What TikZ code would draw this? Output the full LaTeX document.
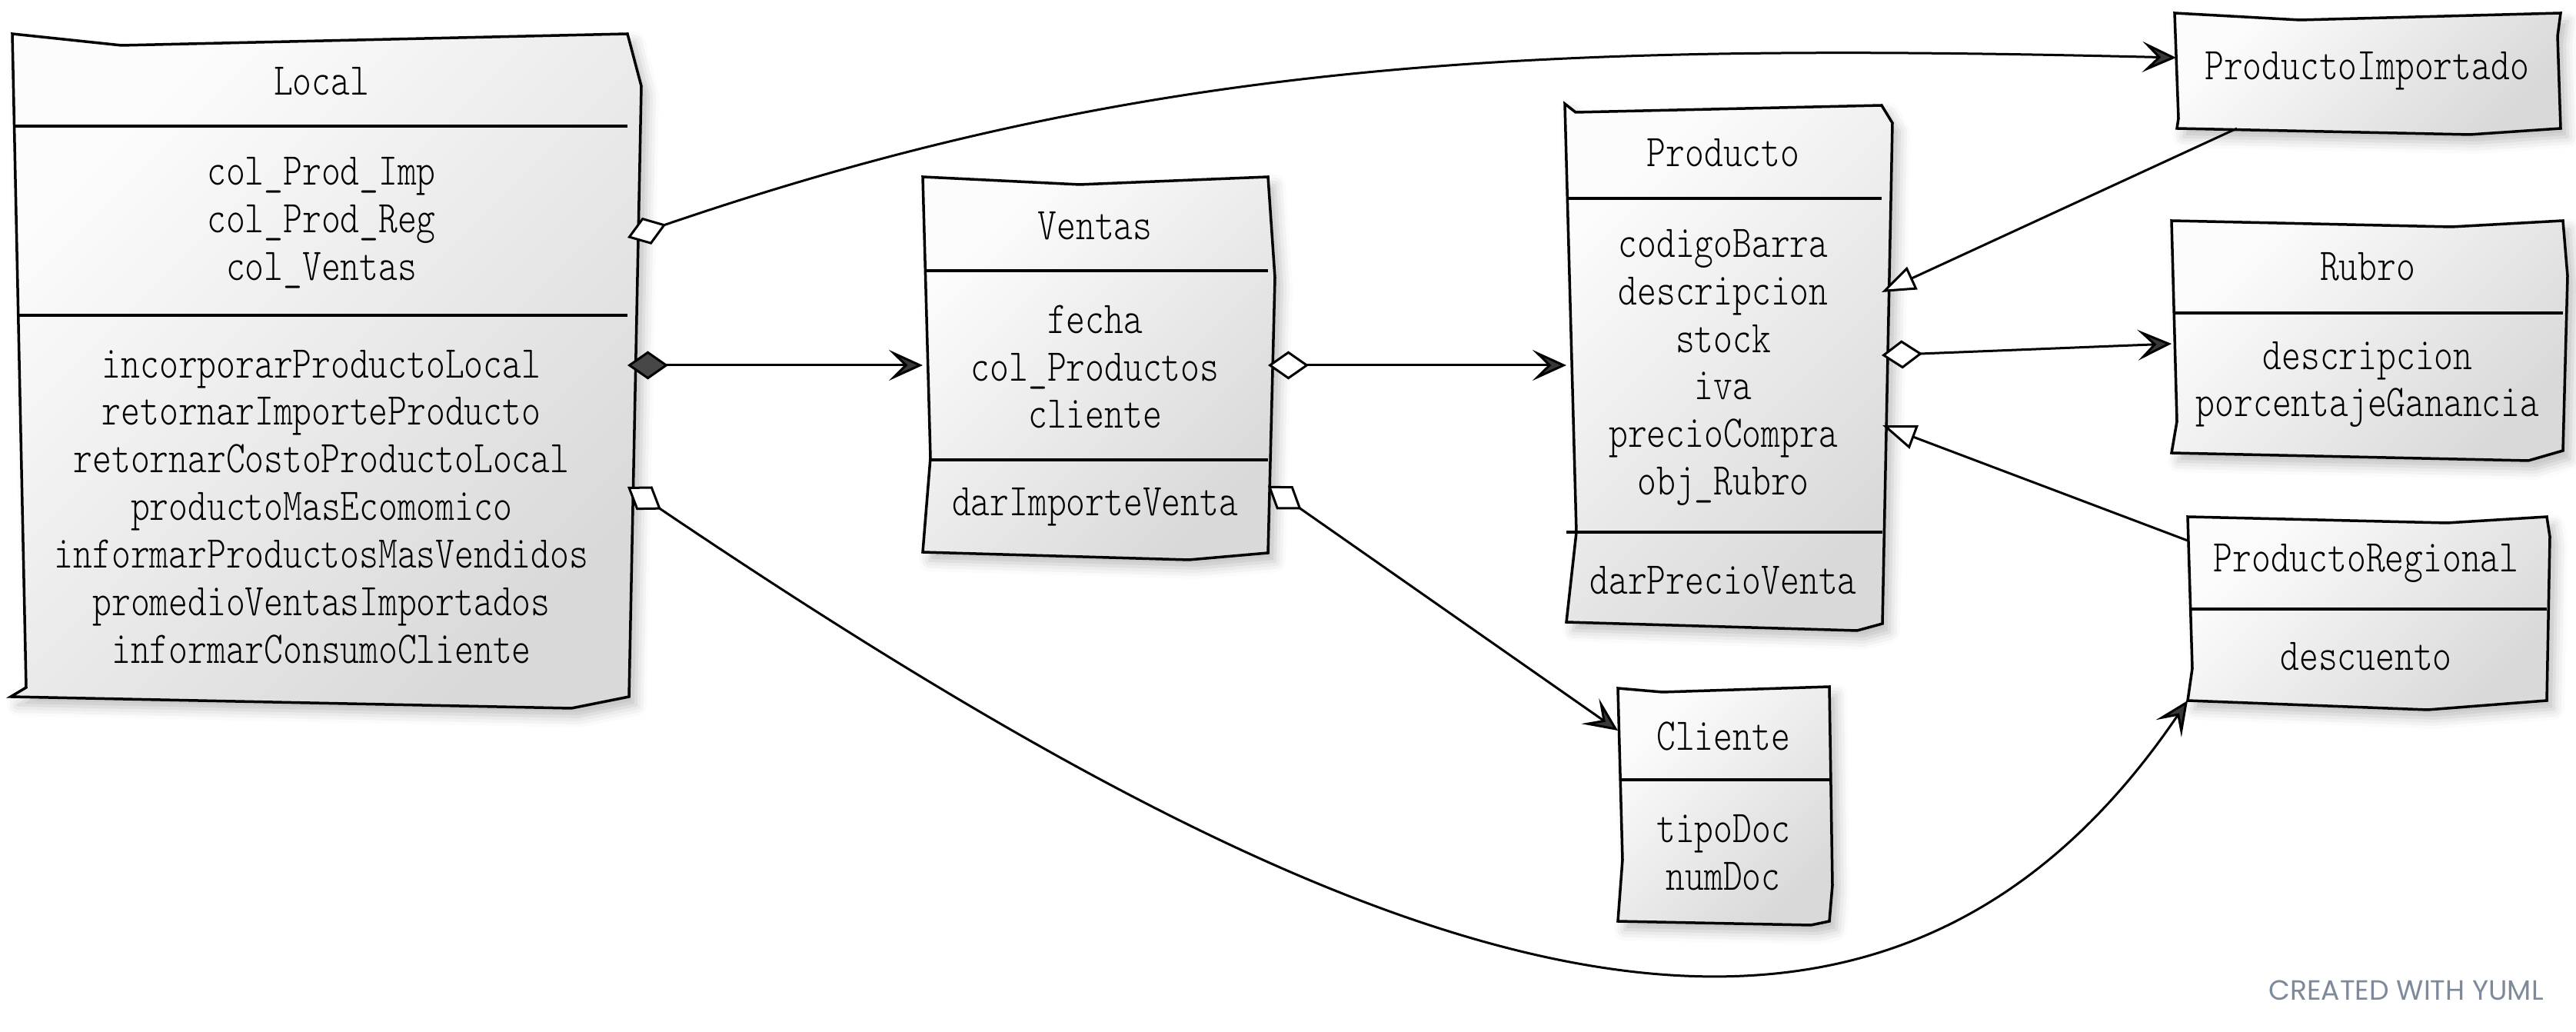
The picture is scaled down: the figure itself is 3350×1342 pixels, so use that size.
\documentclass[tikz,border=0pt]{standalone}
\usepackage{fontspec}
\usetikzlibrary{arrows.meta,shadows.blur}
\IfFontExistsTF{lmmonolt10-regular.otf}{\newfontfamily\umlfont{lmmonolt10-regular.otf}[FakeStretch=0.8]}{\newfontfamily\umlfont{lmmono10-regular.otf}[FakeStretch=0.8]}
\newfontfamily\wmfont{Poppins}
\definecolor{wm}{RGB}{125,138,155}
\begin{document}
\begin{tikzpicture}[x=0.1mm,y=-0.1mm,
  box/.style={draw=black, line width=0.35mm, top color=black!1, bottom color=black!15, shading angle=45,
    blur shadow={shadow xshift=0.9mm, shadow yshift=-1.1mm, shadow blur radius=1.4mm, shadow opacity=25}},
  divl/.style={draw=black, line width=0.35mm},
  txt/.style={font=\umlfont\fontsize{16.8}{17.6}\selectfont, align=center, inner sep=0pt},
  conn/.style={draw=black, line width=0.3mm},
  aggr/.style={conn, {Diamond[length=5.3mm,width=3.7mm,fill=white]}-{Stealth[length=4.4mm,width=4mm,inset=2mm,fill=black!78]}},
  comp/.style={conn, {Diamond[length=5.3mm,width=3.7mm,fill=black!72]}-{Stealth[length=4.4mm,width=4mm,inset=2mm,fill=black!78]}},
  gen/.style={conn, -{Triangle[length=4.4mm,width=3.2mm,fill=white]}}
]
\useasboundingbox (0,0) rectangle (3350,1342);

% ---- Local
\path[box] (16,44) -- (158,59) -- (816,44) -- (834,112) -- (818,906) -- (743,921) -- (14,906) -- (34,894) -- cycle;
\draw[divl] (18,164) -- (816,164);
\draw[divl] (22,410) -- (816,410);
\node[txt] (locT) at (418,106) {Local};
\node[txt] (locAt) at (418,290) {col\_Prod\_Imp\\col\_Prod\_Reg\\col\_Ventas};
\node[txt] (locM) at (418,659) {incorporarProductoLocal\\retornarImporteProducto\\retornarCostoProductoLocal\\productoMasEcomomico\\informarProductosMasVendidos\\promedioVentasImportados\\informarConsumoCliente};

% ---- Ventas
\path[box] (1200,230) -- (1404,240) -- (1649,230) -- (1658,361) -- (1649,719) -- (1546,728) -- (1200,718) -- (1210,595) -- cycle;
\draw[divl] (1202,352) -- (1649,352);
\draw[divl] (1208,598) -- (1649,598);
\node[txt] (venT) at (1424,294) {Ventas};
\node[txt] (venAt) at (1424,477) {fecha\\col\_Productos\\cliente};
\node[txt] (venM) at (1424,659) {darImporteVenta};

% ---- Producto
\path[box] (2035,135) -- (2049,146) -- (2447,137) -- (2461,160) -- (2448,811) -- (2415,820) -- (2037,809) -- (2050,692) -- cycle;
\draw[divl] (2037,258) -- (2447,258);
\draw[divl] (2037,692) -- (2448,692);
\node[txt] (proT) at (2241,199) {Producto};
\node[txt] (proAt) at (2241,478) {codigoBarra\\descripcion\\stock\\iva\\precioCompra\\obj\_Rubro};
\node[txt] (proM) at (2241,755) {darPrecioVenta};

% ---- Cliente
\path[box] (2104,895) -- (2162,900) -- (2379,893) -- (2383,1151) -- (2379,1198) -- (2355,1203) -- (2104,1198) -- (2110,1118) -- cycle;
\draw[divl] (2106,1014) -- (2379,1014);
\node[txt] (cliT) at (2241,957) {Cliente};
\node[txt] (cliAt) at (2241,1109) {tipoDoc\\numDoc};

% ---- ProductoImportado
\path[box] (2828,17) -- (2991,26) -- (3330,17) -- (3326,47) -- (3330,167) -- (3212,175) -- (2831,167) -- (2833,154) -- cycle;
\node[txt] (piT) at (3078,92) {ProductoImportado};

% ---- Rubro
\path[box] (2824,287) -- (3188,295) -- (3333,287) -- (3339,359) -- (3333,586) -- (3288,599) -- (2824,589) -- (2831,548) -- cycle;
\draw[divl] (2827,407) -- (3333,407);
\node[txt] (rubT) at (3079,347) {Rubro};
\node[txt] (rubAt) at (3079,500) {descripcion\\porcentajeGanancia};

% ---- ProductoRegional
\path[box] (2845,672) -- (3182,680) -- (3312,672) -- (3316,698) -- (3312,911) -- (3157,923) -- (2845,911) -- (2851,869) -- cycle;
\draw[divl] (2847,792) -- (3312,792);
\node[txt] (prT) at (3077,732) {ProductoRegional};
\node[txt] (prAt) at (3077,854) {descuento};

% ---- connector ends
\coordinate (locA) at (816,309);
\coordinate (locB) at (816,475);
\coordinate (locC) at (816,633);
\coordinate (venIn) at (1200,475);
\coordinate (venA) at (1649,475);
\coordinate (venB) at (1649,632);
\coordinate (proIn) at (2037,475);
\coordinate (proA) at (2447,462);
\coordinate (proG1) at (2447,380);
\coordinate (proG2) at (2448,553);
\coordinate (cliIn) at (2104,950);
\coordinate (rubIn) at (2824,447);
\coordinate (piIn) at (2830,75);
\coordinate (piOut) at (2909,167);
\coordinate (prIn) at (2845,911);
\coordinate (prOut) at (2845,703);

% ---- connectors
\draw[aggr] (locA) .. controls (1500,75) and (2000,55) .. (piIn);
\draw[comp] (locB) -- (venIn);
\draw[aggr] (locC) .. controls (1760,1270) and (2425,1530) .. (prIn);
\draw[aggr] (venA) -- (proIn);
\draw[aggr] (venB) -- (cliIn);
\draw[aggr] (proA) -- (rubIn);
\draw[gen] (piOut) -- (proG1);
\draw[gen] (prOut) -- (proG2);

\node[font=\wmfont\fontsize{10.3}{12}\selectfont, text=wm, inner sep=0pt] (wmark) at (3129,1288) {CREATED WITH YUML};
\end{tikzpicture}
\end{document}
